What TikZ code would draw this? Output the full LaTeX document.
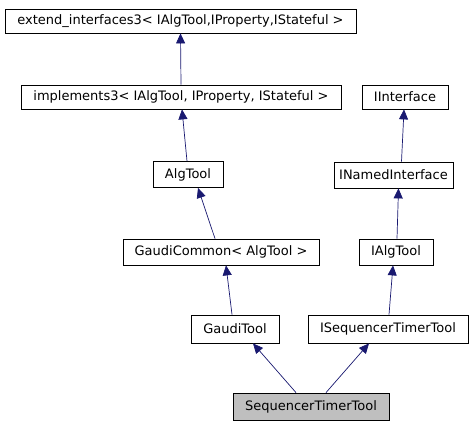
\documentclass[tikz,border=0pt]{standalone}
\usepackage{fontspec}
\setmainfont{DejaVu Sans}
\usetikzlibrary{arrows.meta}
\definecolor{edgeblue}{RGB}{25,25,112}
\tikzset{
  cls/.style={draw=black, line width=0.8pt, fill=white, inner sep=0pt, minimum height=24, font=\fontsize{13}{15}\selectfont},
  inh/.style={draw=edgeblue, line width=0.7pt, -{Triangle[length=10pt,width=9pt]}}
}
\begin{document}
\begin{tikzpicture}[x=1pt,y=-1pt]
\useasboundingbox (0,0) rectangle (473,427);
% Class Boxes
\node [cls, minimum width=351] (ext) at (180.5,21) {extend\_interfaces3< IAlgTool,IProperty,IStateful >};
\node [cls, minimum width=320] (impl) at (181,97) {implements3< IAlgTool, IProperty, IStateful >};
\node [cls, minimum width=86] (iint) at (405,97) {IInterface};
\node [cls, minimum width=70, minimum height=26] (algtool) at (188,174.5) {AlgTool};
\node [cls, minimum width=119, minimum height=26] (inamed) at (393.5,175) {INamedInterface};
\node [cls, minimum width=196, minimum height=26] (gcommon) at (221,252) {GaudiCommon< AlgTool >};
\node [cls, minimum width=74, minimum height=26] (ialgtool) at (396,252) {IAlgTool};
\node [cls, minimum width=88, minimum height=28] (gtool) at (235,329) {GaudiTool};
\node [cls, minimum width=160, minimum height=28] (iseq) at (388,329) {ISequencerTimerTool};
\node [cls, minimum width=156, minimum height=27, fill={rgb,255:red,191;green,191;blue,191}] (seq) at (311,406.5) {SequencerTimerTool};
% Inheritance Edges
\draw [inh] (impl.north) -- (ext.south);
\draw [inh] ([xshift=-1]algtool.north) -- ([xshift=1]impl.south);
\draw [inh] ([xshift=-6]gcommon.north) -- ([xshift=10]algtool.south);
\draw [inh] ([xshift=-3]gtool.north) -- ([xshift=5]gcommon.south);
\draw [inh] ([xshift=8]inamed.north) -- ([xshift=-1]iint.south);
\draw [inh] ([xshift=1]ialgtool.north) -- ([xshift=5]inamed.south);
\draw [inh] ([xshift=1]iseq.north) -- ([xshift=-3]ialgtool.south);
\draw [inh] ([xshift=-15]seq.north) -- ([xshift=18]gtool.south);
\draw [inh] ([xshift=15]seq.north) -- ([xshift=-19]iseq.south);
\end{tikzpicture}
\end{document}
